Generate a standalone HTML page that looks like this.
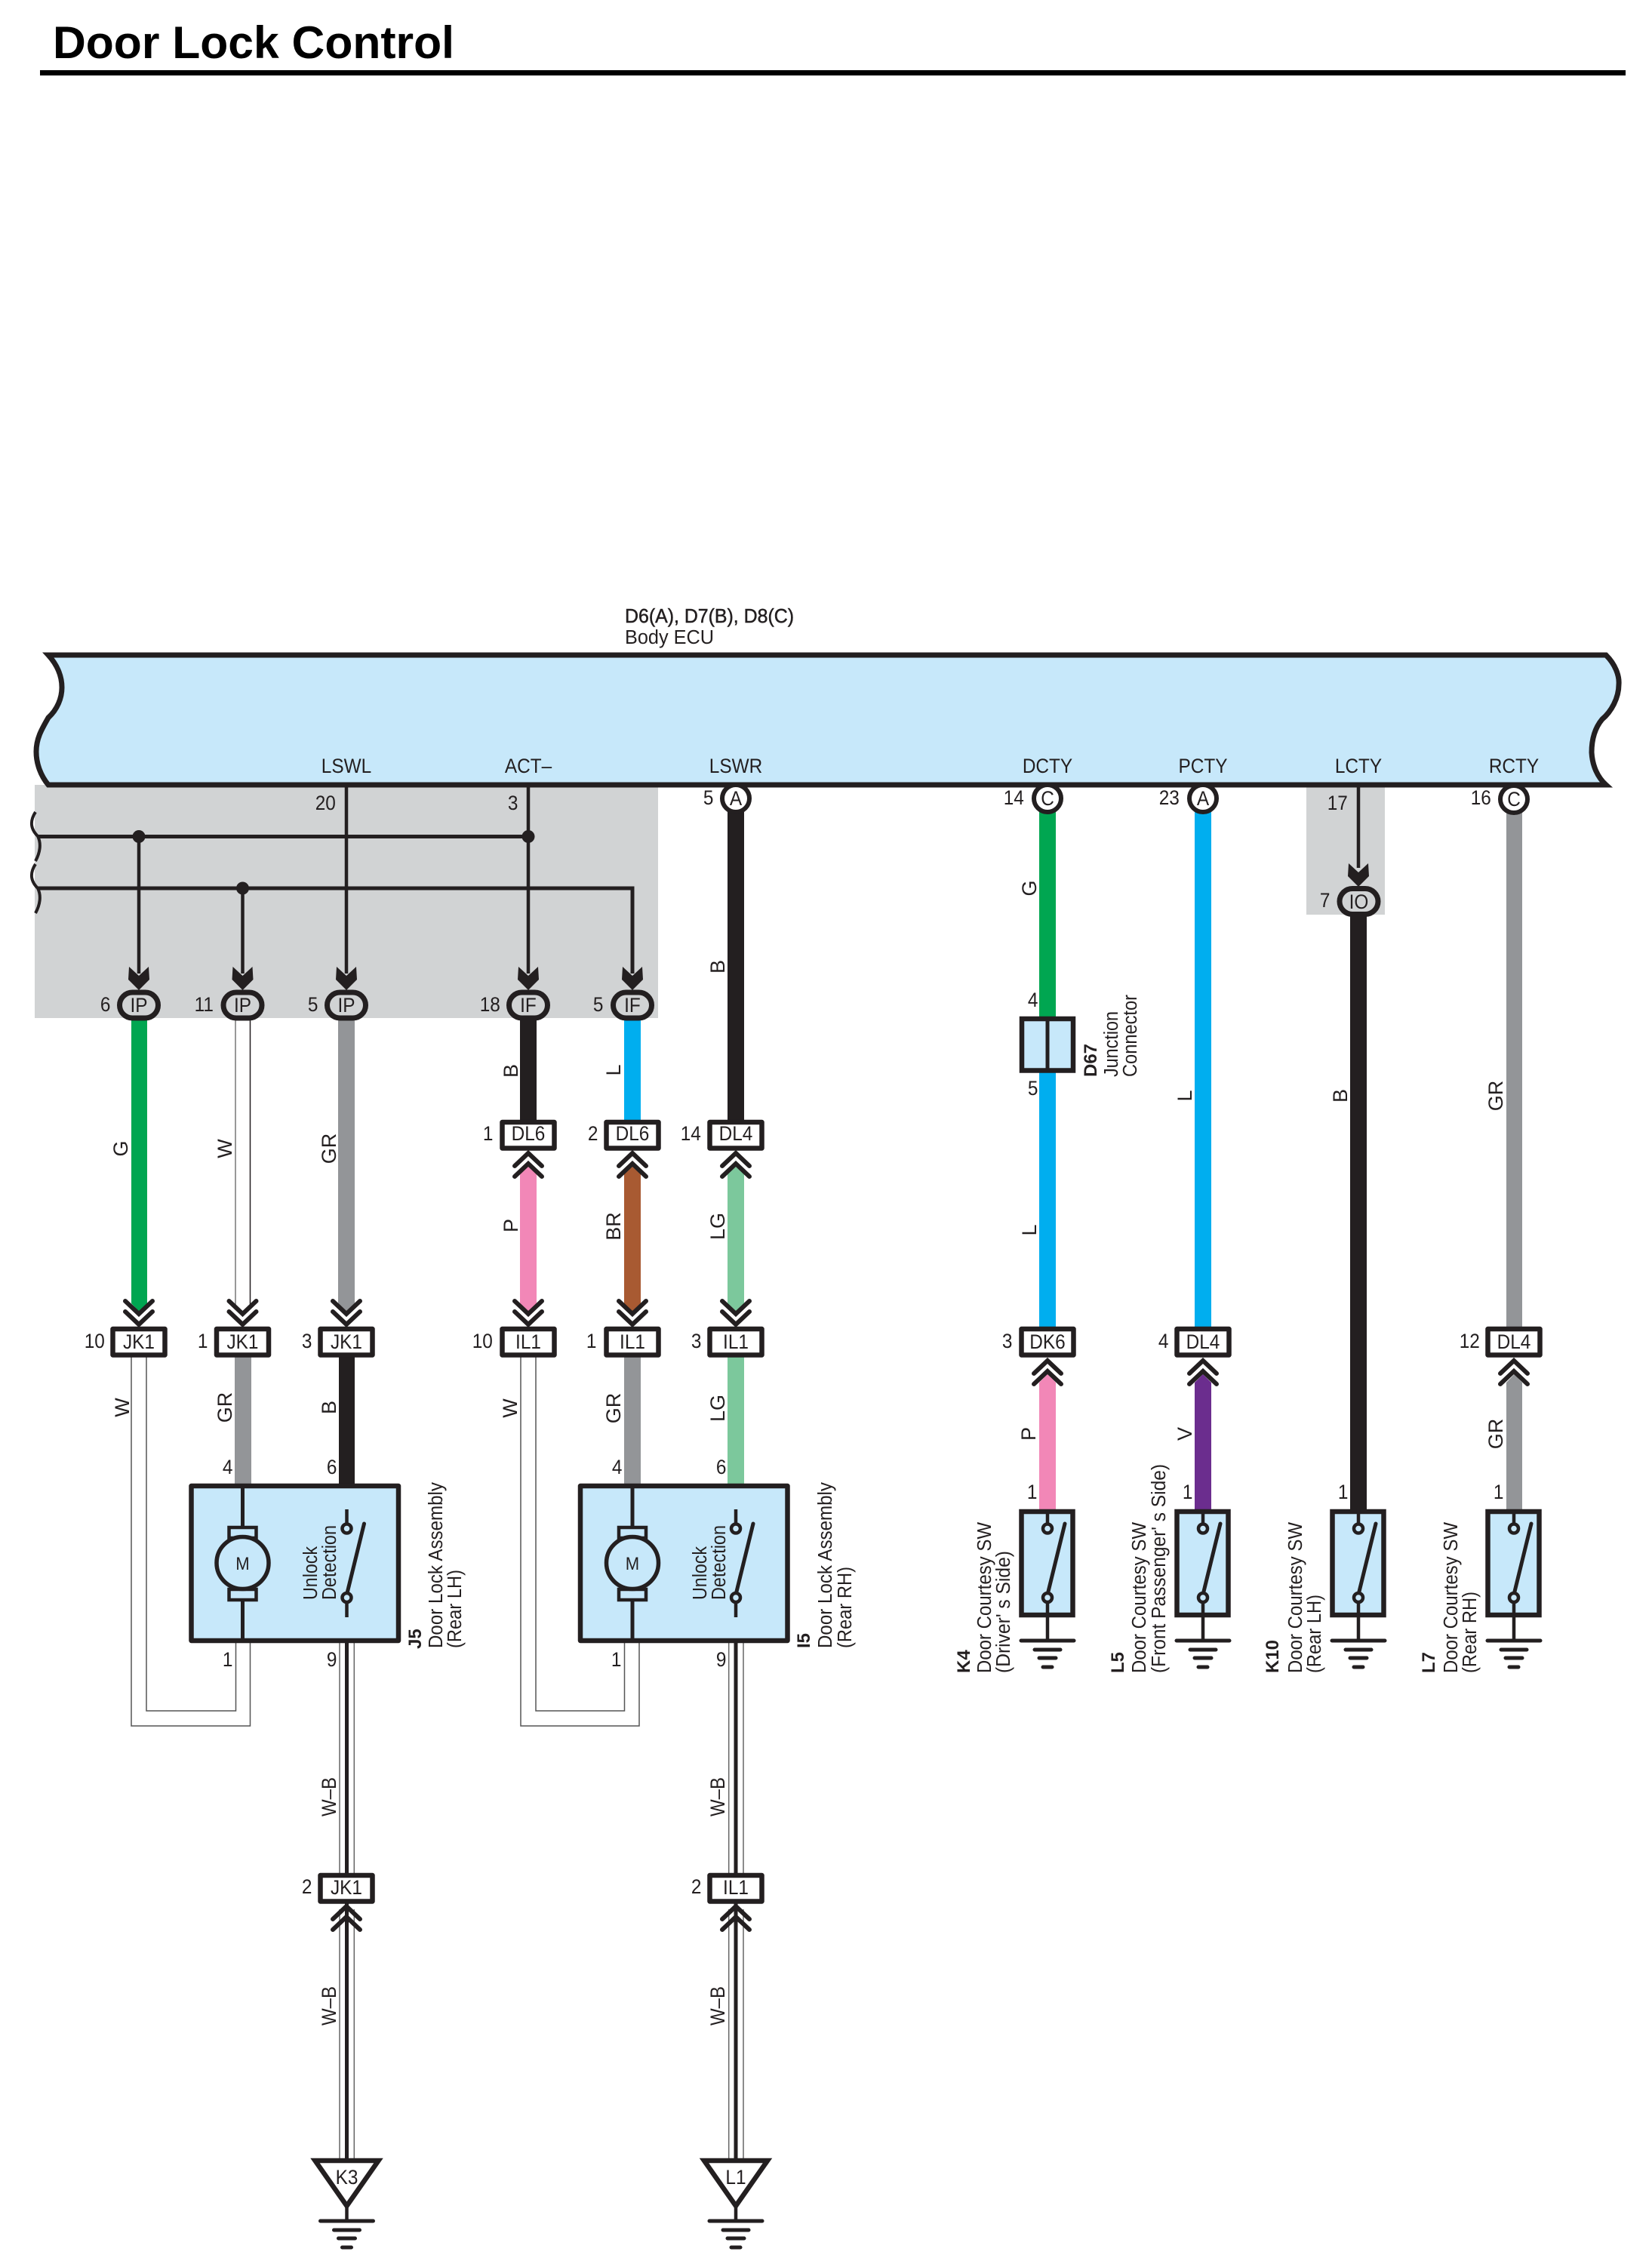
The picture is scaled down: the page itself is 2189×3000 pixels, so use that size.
<!DOCTYPE html>
<html><head><meta charset="utf-8"><title>Door Lock Control</title>
<style>
html,body{margin:0;padding:0;background:#fff}
svg{display:block}
text{font-family:"Liberation Sans",Arial,sans-serif;font-size:25px;fill:#231f20}
.m{text-anchor:middle}.e{text-anchor:end}
.m,.e{font-size:26.5px;transform-box:fill-box;transform-origin:center;transform:scaleX(.92)}
.w{font-size:27px;text-anchor:middle}
.s{font-size:25.5px}.b{font-size:24px;font-weight:bold}
.k{stroke:#231f20;fill:none}
</style></head><body>
<svg width="2189" height="3000" viewBox="0 0 2189 3000" xmlns="http://www.w3.org/2000/svg">
<defs>
<g id="dn"><path class="k" stroke-width="6" stroke-linecap="round" d="M-18,-35L0,-18L18,-35M-18,-21L0,-4L18,-21"/></g>
<g id="up"><path class="k" stroke-width="6" stroke-linecap="round" d="M-18,35L0,18L18,35M-18,21L0,4L18,21"/></g>
<rect id="box" x="-34.5" y="3" width="69" height="34.5" fill="#fff" stroke="#231f20" stroke-width="6.5" stroke-linejoin="round"/>
<rect id="ov" x="-25.5" y="-17" width="51" height="34" rx="17" fill="#d1d3d4" stroke="#231f20" stroke-width="7"/>
<circle id="ci" r="18" fill="#fff" stroke="#231f20" stroke-width="6"/>
<path id="ar" fill="#231f20" d="M-13,-31L0,-19L13,-31L14,-14L0,0L-14,-14Z"/>
<g id="gnd"><path class="k" stroke-width="5" stroke-linecap="round" d="M-35,0H35M-17,12H17M-11,23H11M-6,35H6"/></g>
<g id="sw"><path class="k" stroke-width="4.5" d="M0,0V18M0,110V143"/><path class="k" stroke-width="5" stroke-linecap="round" d="M23,19L0,113"/><ellipse cx="0" cy="25.5" rx="6" ry="6" fill="#c7e8fa" stroke="#231f20" stroke-width="4.5"/><ellipse cx="0" cy="117" rx="6" ry="6" fill="#c7e8fa" stroke="#231f20" stroke-width="4.5"/></g>
<g id="motor"><path class="k" stroke-width="5" d="M0,0V55M0,151V205"/><rect x="-18" y="55" width="36" height="14" fill="#c7e8fa" stroke="#231f20" stroke-width="4.5"/><rect x="-18" y="137" width="36" height="14" fill="#c7e8fa" stroke="#231f20" stroke-width="4.5"/><circle cx="0" cy="102" r="34.5" fill="#c7e8fa" stroke="#231f20" stroke-width="5.5"/></g>
</defs>

<!-- Title -->
<text x="70" y="77" textLength="532" lengthAdjust="spacingAndGlyphs" style="font-size:60px;font-weight:bold;fill:#000">Door Lock Control</text>
<rect x="53" y="93" width="2101" height="7" fill="#000"/>

<!-- ECU label -->
<text x="828" y="825" class="s" textLength="224" lengthAdjust="spacingAndGlyphs" style="stroke:#231f20;stroke-width:.5">D6(A), D7(B), D8(C)</text>
<text x="828" y="853" class="s" textLength="118" lengthAdjust="spacingAndGlyphs">Body ECU</text>

<!-- Shaded areas -->
<rect x="46" y="1040" width="826" height="309" fill="#d1d3d4"/>
<rect x="1731" y="1040" width="104" height="172" fill="#d1d3d4"/>

<!-- ECU body -->
<path d="M64,868L2128,868C2140,880 2146,895 2145,907C2145,925 2135,943 2123,953C2113,965 2109,980 2109,997C2110,1015 2117,1030 2128,1040L64,1040C54,1028 48,1012 48,996C48,978 56,965 64,951C76,940 82,925 82,911C82,895 75,880 64,868Z" fill="#c7e8fa" stroke="#231f20" stroke-width="7"/>

<!-- ECU pin names -->
<text x="459" y="1024" class="m">LSWL</text>
<text x="700" y="1024" class="m">ACT–</text>
<text x="975" y="1024" class="m">LSWR</text>
<text x="1388" y="1024" class="m">DCTY</text>
<text x="1594" y="1024" class="m">PCTY</text>
<text x="1800" y="1024" class="m">LCTY</text>
<text x="2006" y="1024" class="m">RCTY</text>

<!-- Signal lines in shaded area -->
<path class="k" stroke-width="4" d="M47,1076C38,1090 42,1100 50,1108C55,1118 53,1130 47,1141M47,1145C38,1159 42,1169 50,1177C55,1187 53,1199 47,1210"/>
<path class="k" stroke-width="5" d="M50,1108.5H700M50,1177H838V1290"/>
<path class="k" stroke-width="4.5" d="M184,1108V1290M321.5,1177V1290M459,1042V1290M700,1042V1290"/>
<circle cx="184" cy="1108.5" r="8.5" fill="#231f20"/>
<circle cx="700" cy="1108.5" r="8.5" fill="#231f20"/>
<circle cx="321.5" cy="1177" r="8.5" fill="#231f20"/>
<path class="k" stroke-width="4.5" d="M1800,1042V1150"/>

<!-- Wires upper -->
<path fill="#00a651" d="M174,1350H195V1727L184.5,1738L174,1727Z"/>
<path class="k" stroke-width="1.5" style="stroke:#777" d="M312,1350V1730"/>
<path class="k" stroke-width="1.5" d="M331.5,1350V1730"/>
<path fill="#939598" d="M448,1350H470V1727L459,1738L448,1727Z"/>
<path fill="#231f20" d="M689,1350H711V1485H689Z"/>
<path fill="#00aeef" d="M827,1350H849V1485H827Z"/>
<path fill="#231f20" d="M964,1075H986V1485H964Z"/>
<path fill="#f287b7" d="M689,1556L700,1546L711,1556V1727L700,1738L689,1727Z"/>
<path fill="#a85a32" d="M827,1556L838,1546L849,1556V1727L838,1738L827,1727Z"/>
<path fill="#7cc89c" d="M964,1556L975,1546L986,1556V1727L975,1738L964,1727Z"/>
<rect x="1377" y="1075" width="22" height="275" fill="#00a651"/>
<rect x="1377" y="1418" width="22" height="342" fill="#00aeef"/>
<rect x="1583" y="1075" width="22" height="685" fill="#00aeef"/>
<rect x="1789" y="1210" width="22" height="792" fill="#231f20"/>
<rect x="1996" y="1075" width="21" height="685" fill="#939598"/>

<!-- Wires lower -->
<path class="k" stroke-width="1.5" style="stroke:#555" d="M174,1798V2287H331.5V2175M194,1798V2267H312.5V2175"/>
<path class="k" stroke-width="1.5" style="stroke:#555" d="M690,1798V2287H847V2175M710,1798V2267H827.5V2175"/>
<rect x="311" y="1798" width="22" height="170" fill="#939598"/>
<rect x="449" y="1798" width="21" height="170" fill="#231f20"/>
<rect x="827" y="1798" width="22" height="170" fill="#939598"/>
<rect x="964" y="1798" width="22" height="170" fill="#7cc89c"/>
<path fill="#f287b7" d="M1377,1832L1388,1821L1399,1832V2002H1377Z"/>
<path fill="#6b2d8e" d="M1583,1832L1594,1821L1605,1832V2002H1583Z"/>
<path fill="#939598" d="M1996,1832L2006.5,1821L2017,1832V2002H1996Z"/>

<!-- triple wires W-B -->
<path class="k" stroke-width="5" d="M459.5,2175V2486M459.5,2520V2866M975,2175V2486M975,2520V2866"/>
<path class="k" stroke-width="1.5" style="stroke:#666" d="M450,2175V2486M469.3,2175V2486M450,2530V2866M469.3,2530V2866M965.7,2175V2486M985,2175V2486M965.7,2530V2866M985,2530V2866"/>

<!-- Arrows + ovals -->
<use href="#ar" x="184" y="1312"/><use href="#ar" x="321.5" y="1312"/><use href="#ar" x="459" y="1312"/><use href="#ar" x="700" y="1312"/><use href="#ar" x="838" y="1312"/><use href="#ar" x="1800" y="1175"/>
<use href="#ov" x="184" y="1332"/><use href="#ov" x="321.5" y="1332"/><use href="#ov" x="459" y="1332"/><use href="#ov" x="700" y="1332"/><use href="#ov" x="838" y="1332"/><use href="#ov" x="1800.5" y="1194.5"/>
<text x="184" y="1341" class="m">IP</text><text x="321.5" y="1341" class="m">IP</text><text x="459" y="1341" class="m">IP</text><text x="700" y="1341" class="m">IF</text><text x="838" y="1341" class="m">IF</text><text x="1800.5" y="1204" class="m">IO</text>
<text x="147" y="1340" class="e">6</text><text x="284" y="1340" class="e">11</text><text x="422" y="1340" class="e">5</text><text x="664" y="1340" class="e">18</text><text x="800" y="1340" class="e">5</text><text x="1763" y="1202" class="e">7</text>
<text x="446" y="1073" class="e">20</text><text x="687" y="1073" class="e">3</text><text x="1787" y="1073" class="e">17</text>

<!-- Round connectors -->
<use href="#ci" x="975" y="1058"/><use href="#ci" x="1388" y="1058"/><use href="#ci" x="1594" y="1058"/><use href="#ci" x="2006" y="1059"/>
<text x="975" y="1067" class="m">A</text><text x="1388" y="1067" class="m">C</text><text x="1594" y="1067" class="m">A</text><text x="2006" y="1068" class="m">C</text>
<text x="946" y="1066" class="e">5</text><text x="1358" y="1066" class="e">14</text><text x="1564" y="1066" class="e">23</text><text x="1977" y="1066" class="e">16</text>

<!-- Chevrons -->
<use href="#dn" x="184" y="1759"/><use href="#dn" x="321.5" y="1759"/><use href="#dn" x="459" y="1759"/><use href="#dn" x="700" y="1759"/><use href="#dn" x="838" y="1759"/><use href="#dn" x="975" y="1759"/>
<use href="#up" x="700" y="1524"/><use href="#up" x="838" y="1524"/><use href="#up" x="975" y="1524"/>
<use href="#up" x="1388" y="1799"/><use href="#up" x="1594" y="1799"/><use href="#up" x="2006" y="1799"/>
<use href="#up" x="459" y="2522"/><use href="#up" x="975" y="2522"/>

<!-- Rect connector boxes -->
<use href="#box" x="184" y="1758"/><use href="#box" x="321.5" y="1758"/><use href="#box" x="459" y="1758"/>
<use href="#box" x="700" y="1484"/><use href="#box" x="838" y="1484"/><use href="#box" x="975" y="1484"/>
<use href="#box" x="700" y="1758"/><use href="#box" x="838" y="1758"/><use href="#box" x="975" y="1758"/>
<use href="#box" x="1388" y="1758"/><use href="#box" x="1594" y="1758"/><use href="#box" x="2006" y="1758"/>
<use href="#box" x="459" y="2482"/><use href="#box" x="975" y="2482"/>

<text x="184" y="1787" class="m">JK1</text><text x="321.5" y="1787" class="m">JK1</text><text x="459" y="1787" class="m">JK1</text>
<text x="700" y="1511" class="m">DL6</text><text x="838" y="1511" class="m">DL6</text><text x="975" y="1511" class="m">DL4</text>
<text x="700" y="1787" class="m">IL1</text><text x="838" y="1787" class="m">IL1</text><text x="975" y="1787" class="m">IL1</text>
<text x="1388" y="1787" class="m">DK6</text><text x="1594" y="1787" class="m">DL4</text><text x="2006" y="1787" class="m">DL4</text>
<text x="459" y="2510" class="m">JK1</text><text x="975" y="2510" class="m">IL1</text>

<text x="140" y="1786" class="e">10</text><text x="276" y="1786" class="e">1</text><text x="414" y="1786" class="e">3</text>
<text x="654" y="1511" class="e">1</text><text x="793" y="1511" class="e">2</text><text x="930" y="1511" class="e">14</text>
<text x="654" y="1786" class="e">10</text><text x="791" y="1786" class="e">1</text><text x="930" y="1786" class="e">3</text>
<text x="1342" y="1786" class="e">3</text><text x="1549" y="1786" class="e">4</text><text x="1962" y="1786" class="e">12</text>
<text x="414" y="2509" class="e">2</text><text x="930" y="2509" class="e">2</text>

<!-- Wire colour labels -->
<text class="w" transform="translate(169,1522) rotate(-90)">G</text>
<text class="w" transform="translate(307,1522) rotate(-90)">W</text>
<text class="w" transform="translate(445,1522) rotate(-90)">GR</text>
<text class="w" transform="translate(686,1419) rotate(-90)">B</text>
<text class="w" transform="translate(822,1418) rotate(-90)">L</text>
<text class="w" transform="translate(960,1281) rotate(-90)">B</text>
<text class="w" transform="translate(686,1624) rotate(-90)">P</text>
<text class="w" transform="translate(822,1625) rotate(-90)">BR</text>
<text class="w" transform="translate(960,1625) rotate(-90)">LG</text>
<text class="w" transform="translate(1373,1177) rotate(-90)">G</text>
<text class="w" transform="translate(1373,1630) rotate(-90)">L</text>
<text class="w" transform="translate(1579,1452) rotate(-90)">L</text>
<text class="w" transform="translate(1785,1452) rotate(-90)">B</text>
<text class="w" transform="translate(1991,1452) rotate(-90)">GR</text>
<text class="w" transform="translate(171,1865) rotate(-90)">W</text>
<text class="w" transform="translate(307,1865) rotate(-90)">GR</text>
<text class="w" transform="translate(445,1865) rotate(-90)">B</text>
<text class="w" transform="translate(685,1866) rotate(-90)">W</text>
<text class="w" transform="translate(822,1866) rotate(-90)">GR</text>
<text class="w" transform="translate(960,1866) rotate(-90)">LG</text>
<text class="w" transform="translate(1372,1900) rotate(-90)">P</text>
<text class="w" transform="translate(1579,1900) rotate(-90)">V</text>
<text class="w" transform="translate(1991,1900) rotate(-90)">GR</text>
<text class="w" textLength="52" lengthAdjust="spacingAndGlyphs" transform="translate(445,2381) rotate(-90)">W–B</text>
<text class="w" textLength="52" lengthAdjust="spacingAndGlyphs" transform="translate(445,2658) rotate(-90)">W–B</text>
<text class="w" textLength="52" lengthAdjust="spacingAndGlyphs" transform="translate(960,2381) rotate(-90)">W–B</text>
<text class="w" textLength="52" lengthAdjust="spacingAndGlyphs" transform="translate(960,2658) rotate(-90)">W–B</text>

<!-- Junction connector -->
<rect x="1354" y="1350" width="68" height="68.5" fill="#c7e8fa" stroke="#231f20" stroke-width="6.5"/>
<path class="k" stroke-width="5" d="M1388,1350V1418"/>
<text x="1376" y="1334" class="e">4</text><text x="1376" y="1451" class="e">5</text>
<text class="b" transform="translate(1453,1427) rotate(-90)">D67</text>
<text class="s" textLength="87" lengthAdjust="spacingAndGlyphs" transform="translate(1481,1427) rotate(-90)">Junction</text>
<text class="s" textLength="109" lengthAdjust="spacingAndGlyphs" transform="translate(1506,1427) rotate(-90)">Connector</text>

<!-- J5 assembly -->
<rect x="253.5" y="1969" width="274.5" height="205" fill="#c7e8fa" stroke="#231f20" stroke-width="6.5" stroke-linejoin="round"/>
<use href="#motor" x="321.5" y="1969"/>
<use href="#sw" x="459.5" y="2000"/>
<text x="321.5" y="2080" class="m" style="font-size:24px">M</text>
<text class="s" textLength="71" lengthAdjust="spacingAndGlyphs" transform="translate(420,2120) rotate(-90)">Unlock</text>
<text class="s" textLength="99" lengthAdjust="spacingAndGlyphs" transform="translate(445,2120) rotate(-90)">Detection</text>
<text x="309" y="1953" class="e">4</text><text x="447" y="1953" class="e">6</text>
<text x="309" y="2208" class="e">1</text><text x="447" y="2208" class="e">9</text>
<text class="b" transform="translate(558,2185) rotate(-90)">J5</text>
<text class="s" textLength="220" lengthAdjust="spacingAndGlyphs" transform="translate(586,2184) rotate(-90)">Door Lock Assembly</text>
<text class="s" textLength="104" lengthAdjust="spacingAndGlyphs" transform="translate(611,2184) rotate(-90)">(Rear LH)</text>

<!-- I5 assembly -->
<rect x="769" y="1969" width="274.5" height="205" fill="#c7e8fa" stroke="#231f20" stroke-width="6.5" stroke-linejoin="round"/>
<use href="#motor" x="838" y="1969"/>
<use href="#sw" x="975" y="2000"/>
<text x="838" y="2080" class="m" style="font-size:24px">M</text>
<text class="s" textLength="71" lengthAdjust="spacingAndGlyphs" transform="translate(936,2120) rotate(-90)">Unlock</text>
<text class="s" textLength="99" lengthAdjust="spacingAndGlyphs" transform="translate(961,2120) rotate(-90)">Detection</text>
<text x="825" y="1953" class="e">4</text><text x="963" y="1953" class="e">6</text>
<text x="824" y="2208" class="e">1</text><text x="963" y="2208" class="e">9</text>
<text class="b" transform="translate(1073,2184) rotate(-90)">I5</text>
<text class="s" textLength="220" lengthAdjust="spacingAndGlyphs" transform="translate(1102,2184) rotate(-90)">Door Lock Assembly</text>
<text class="s" textLength="108" lengthAdjust="spacingAndGlyphs" transform="translate(1128,2184) rotate(-90)">(Rear RH)</text>

<!-- Door courtesy switches -->
<rect x="1353.5" y="2003" width="68" height="137" fill="#c7e8fa" stroke="#231f20" stroke-width="6.5"/><use href="#sw" x="1388" y="2000"/><use href="#gnd" x="1388" y="2174"/>
<rect x="1559.5" y="2003" width="68" height="137" fill="#c7e8fa" stroke="#231f20" stroke-width="6.5"/><use href="#sw" x="1594" y="2000"/><use href="#gnd" x="1594" y="2174"/>
<rect x="1765.5" y="2003" width="68" height="137" fill="#c7e8fa" stroke="#231f20" stroke-width="6.5"/><use href="#sw" x="1800" y="2000"/><use href="#gnd" x="1800" y="2174"/>
<rect x="1971.5" y="2003" width="68" height="137" fill="#c7e8fa" stroke="#231f20" stroke-width="6.5"/><use href="#sw" x="2006" y="2000"/><use href="#gnd" x="2006" y="2174"/>
<path class="k" stroke-width="4.5" d="M1388,2140V2174M1594,2140V2174M1800,2140V2174M2006,2140V2174"/>
<text x="1375" y="1986" class="e">1</text><text x="1581" y="1986" class="e">1</text><text x="1787" y="1986" class="e">1</text><text x="1993" y="1986" class="e">1</text>

<text class="b" transform="translate(1285,2217) rotate(-90)">K4</text>
<text class="s" textLength="200" lengthAdjust="spacingAndGlyphs" transform="translate(1313,2217) rotate(-90)">Door Courtesy SW</text>
<text class="s" textLength="162" lengthAdjust="spacingAndGlyphs" transform="translate(1338,2217) rotate(-90)">(Driver' s Side)</text>
<text class="b" transform="translate(1489,2217) rotate(-90)">L5</text>
<text class="s" textLength="200" lengthAdjust="spacingAndGlyphs" transform="translate(1518,2217) rotate(-90)">Door Courtesy SW</text>
<text class="s" textLength="277" lengthAdjust="spacingAndGlyphs" transform="translate(1544,2217) rotate(-90)">(Front Passenger' s Side)</text>
<text class="b" transform="translate(1694,2217) rotate(-90)">K10</text>
<text class="s" textLength="200" lengthAdjust="spacingAndGlyphs" transform="translate(1725,2217) rotate(-90)">Door Courtesy SW</text>
<text class="s" textLength="104" lengthAdjust="spacingAndGlyphs" transform="translate(1750,2217) rotate(-90)">(Rear LH)</text>
<text class="b" transform="translate(1901,2217) rotate(-90)">L7</text>
<text class="s" textLength="200" lengthAdjust="spacingAndGlyphs" transform="translate(1931,2217) rotate(-90)">Door Courtesy SW</text>
<text class="s" textLength="108" lengthAdjust="spacingAndGlyphs" transform="translate(1956,2217) rotate(-90)">(Rear RH)</text>

<!-- Ground triangles -->
<path d="M417.5,2863H501.5L459.5,2923Z" fill="#fff" stroke="#231f20" stroke-width="6.5"/>
<path d="M933,2863H1017L975,2923Z" fill="#fff" stroke="#231f20" stroke-width="6.5"/>
<path class="k" stroke-width="4.5" d="M459.5,2921V2943M975,2921V2943"/>
<use href="#gnd" x="459.5" y="2943"/><use href="#gnd" x="975" y="2943"/>
<text x="459.5" y="2894" class="m">K3</text><text x="975" y="2894" class="m">L1</text>
</svg>
</body></html>
